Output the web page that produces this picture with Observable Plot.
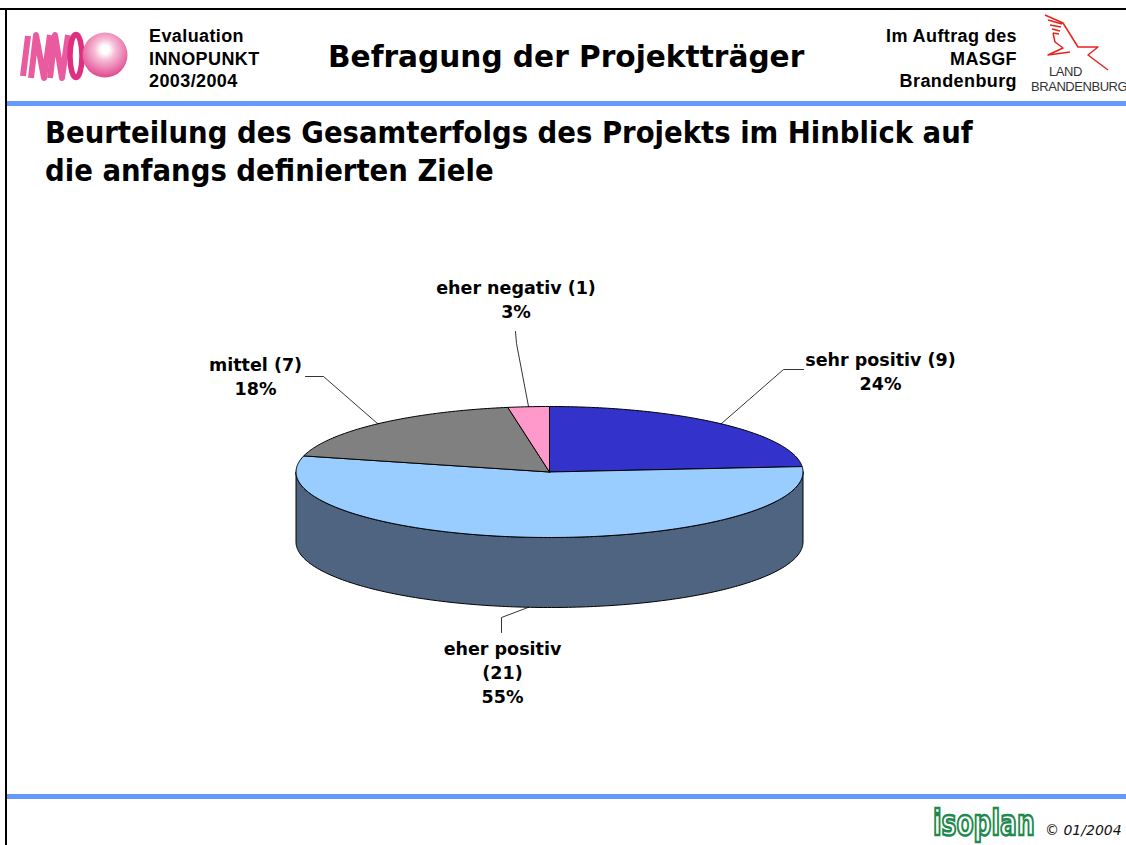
<!DOCTYPE html>
<html lang="de">
<head>
<meta charset="utf-8">
<title>Befragung der Projektträger</title>
<script src="https://cdn.jsdelivr.net/npm/d3@7"></script>
<script src="https://cdn.jsdelivr.net/npm/@observablehq/plot@0.6"></script>
<style>
  html,body{margin:0;padding:0;background:#fff;}
  #page{position:relative;width:1126px;height:845px;overflow:hidden;background:#fff;}
  #page svg{display:block;}
  .t{position:absolute;white-space:nowrap;color:#000;}
  .hd{font:bold 18px/22.5px "Liberation Sans",Arial,sans-serif;letter-spacing:.4px;}
  .rule{position:absolute;}
</style>
</head>
<body>
<div id="page">
  <div id="chart"></div>

  <div class="rule" style="left:0;top:8px;width:1126px;height:2px;background:#000"></div>
  <div class="rule" style="left:5px;top:8px;width:2px;height:837px;background:#000"></div>
  <div class="rule" style="left:7px;top:101px;width:1119px;height:5px;background:#6699FF"></div>
  <div class="rule" style="left:7px;top:794px;width:1119px;height:5px;background:#6699FF"></div>

  <div class="t hd" style="left:149px;top:25px">Evaluation<br>INNOPUNKT<br>2003/2004</div>
  <div class="t" style="left:328px;top:38px;font:bold 29.6px/38px 'DejaVu Sans',Verdana,sans-serif">Befragung der Projektträger</div>
  <div class="t hd" style="right:109px;top:25px;text-align:right">Im Auftrag des<br>MASGF<br>Brandenburg</div>

  <div class="t" style="left:45px;top:114px;font:bold 30.6px/37.5px 'DejaVu Sans Condensed','DejaVu Sans',sans-serif;font-stretch:condensed">Beurteilung des Gesamterfolgs des Projekts im Hinblick auf<br>die anfangs definierten Ziele</div>

  <svg style="position:absolute;left:15px;top:28px" width="125" height="58" viewBox="0 0 125 58">
    <defs>
      <radialGradient id="ball" cx=".5" cy=".38" r=".62">
        <stop offset="0" stop-color="#fff"/><stop offset=".15" stop-color="#fff"/>
        <stop offset=".38" stop-color="#f6bcd6"/><stop offset="1" stop-color="#e0488f"/>
      </radialGradient>
    </defs>
    <g fill="none" stroke="#ea5a9f" stroke-width="6" stroke-linejoin="round">
      <path d="M8 48L13 8"/>
      <path d="M16 50L21 7L29 50L35 7"/>
      <path d="M35 50L40 7L47 50L53 7"/>
      <ellipse cx="61" cy="28" rx="6" ry="21.5" stroke-width="5.5" stroke="#df2f80"/>
    </g>
    <circle cx="90" cy="27" r="22.5" fill="url(#ball)"/>
  </svg>

  <svg style="position:absolute;left:1040px;top:12px" width="75" height="62" viewBox="0 0 75 62">
    <path d="M5 3L23 11L38 35L58 35L48 43L68 58M13 21L15 30L23 36L8 43L30 40M8 8L22 12M10 13L21 15M12 17L20 19M13 21L19 22"
          fill="none" stroke="#e8231c" stroke-width="1.5" stroke-linejoin="round"/>
  </svg>
  <div class="t" style="left:1031px;top:65px;width:95px;font:400 13px/14.5px 'Liberation Sans',Arial,sans-serif;color:#333;letter-spacing:-.45px">
    <span style="margin-left:18px">LAND</span><br>BRANDENBURG</div>

  <svg style="position:absolute;left:925px;top:800px" width="112" height="45" viewBox="0 0 112 45">
    <text transform="translate(8 35) scale(1 1.4)" font-family="'DejaVu Sans',sans-serif" font-size="25" font-weight="bold"
          fill="#fff" stroke="#1f8a4c" stroke-width="1.8">isoplan</text>
  </svg>
  <div class="t" style="left:1045px;top:821px;font:italic 14px/18px 'DejaVu Sans',Verdana,sans-serif;color:#111">© 01/2004</div>
</div>

<script>
// Survey answers (number of project sponsors)
const categories = ["sehr positiv", "eher positiv", "mittel", "eher negativ"];
const counts     = [9, 21, 7, 1];
const percents   = [24, 55, 18, 3];
const colors     = ["#3333CC", "#99CCFF", "#808080", "#FF99CC"];

// Drawing geometry of the tilted pie
const W = 1126, H = 845;
const cx = 549, cy = 471.5, rx = 253.5, ry = 65.5, depth = 70;
const rim = a => [cx + rx * Math.sin(a), cy - ry * Math.cos(a)];

const total = d3.sum(counts);
let acc = 0;
const slices = categories.map((name, i) => {
  const a0 = acc / total * 2 * Math.PI;
  acc += counts[i];
  const a1 = acc / total * 2 * Math.PI;
  return {name, i, a0, a1, mid: (a0 + a1) / 2};
});

const arc = (a0, a1) => {
  const n = Math.max(2, Math.ceil((a1 - a0) * 60));
  return d3.range(n + 1).map(k => rim(a0 + (a1 - a0) * k / n));
};

const topPts = slices.flatMap(s =>
  [[cx, cy], ...arc(s.a0, s.a1), [cx, cy]].map(([x, y]) => ({x, y, k: s.i}))
);
const lower = arc(Math.PI / 2, 3 * Math.PI / 2);
const sidePts = [...lower, ...lower.slice().reverse().map(([x, y]) => [x, y + depth])]
  .map(([x, y]) => ({x, y}));
sidePts.push(sidePts[0]);

// Label placement: label centre and leader elbow for each slice
const labelText = [
  `${categories[0]} (${counts[0]})\n${percents[0]}%`,
  `${categories[1]}\n(${counts[1]})\n${percents[1]}%`,
  `${categories[2]} (${counts[2]})\n${percents[2]}%`,
  `${categories[3]} (${counts[3]})\n${percents[3]}%`
];
const labelX = [880, 502, 255, 515.5];
const labelY = [370, 670.5, 375, 298];
const elbows = [
  [[783, 369], [803, 369]],
  [[501, 617], [501, 632]],
  [[323, 376], [305, 376]],
  [[516, 343], [515, 331]]
];
const leaders = slices.flatMap(s => {
  let [x, y] = rim(s.mid);
  if (Math.cos(s.mid) < 0) y += depth;
  return [[x, y], ...elbows[s.i]].map(([px, py]) => ({x: px, y: py, k: s.i}));
});

const fig = Plot.plot({
  width: W, height: H,
  margin: 0,
  x: {domain: [0, W], range: [0, W], axis: null},
  y: {domain: [0, H], range: [0, H], axis: null},
  style: {background: "transparent", overflow: "visible"},
  marks: [
    Plot.line(sidePts, {x: "x", y: "y", fill: "#4F6480", stroke: "#000", strokeWidth: 1}),
    Plot.line(topPts, {x: "x", y: "y", z: "k", fill: d => colors[d.k], stroke: "#000", strokeWidth: 1, strokeLinejoin: "round"}),
    Plot.line(leaders, {x: "x", y: "y", z: "k", stroke: "#000", strokeWidth: 0.8}),
    Plot.text(labelText, {
      x: (d, i) => labelX[i], y: (d, i) => labelY[i],
      text: d => d, fontSize: 17.5, fontWeight: "bold",
      fontFamily: "'DejaVu Sans',Verdana,sans-serif",
      lineHeight: 1.38, textAnchor: "middle", lineAnchor: "middle", fill: "#000"
    })
  ]
});
document.getElementById("chart").append(fig);
</script>
</body>
</html>
